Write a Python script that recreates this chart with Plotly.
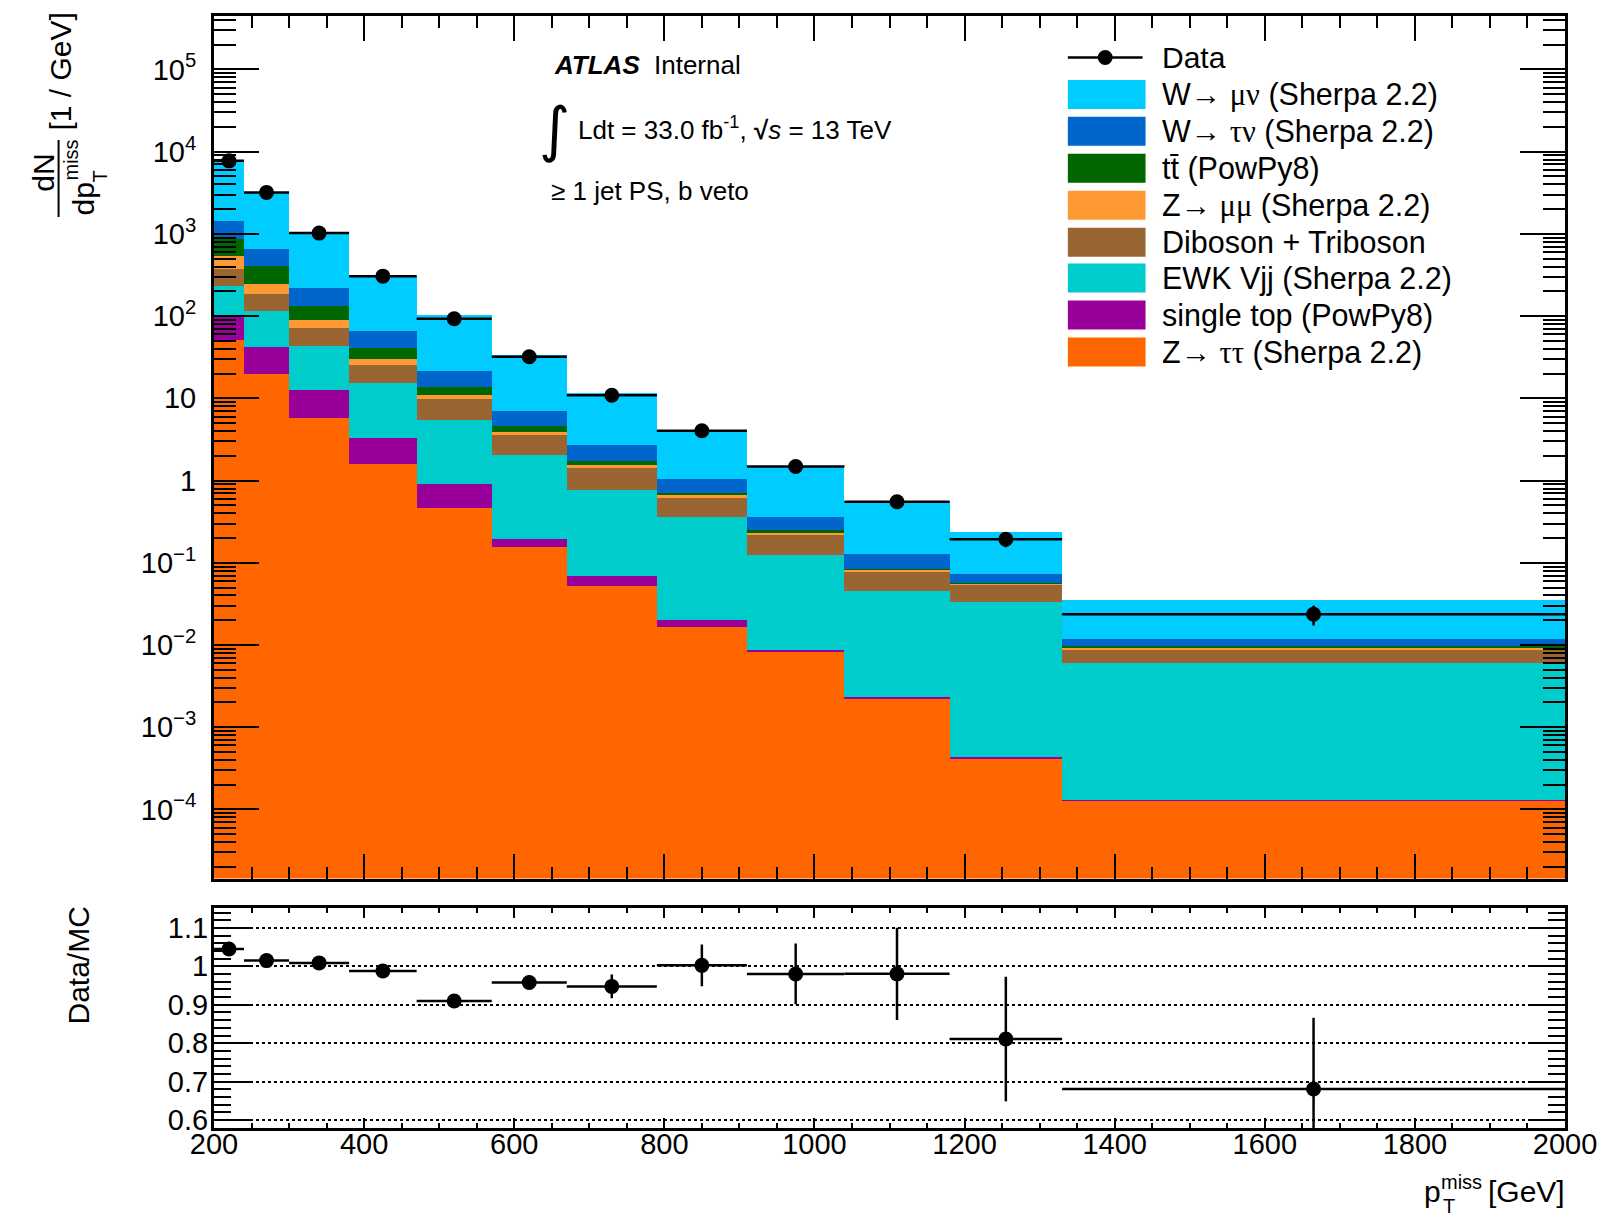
import plotly.graph_objects as go

# ---------------- data ----------------
bin_edges = [200, 240, 300, 380, 470, 570, 670, 790, 910, 1040, 1180, 1330, 2000]

# per-process dN/dpT [1/GeV], stack order bottom -> top
z_tautau   = [51.6, 20.0, 5.7, 1.6, 0.46, 0.154, 0.0515, 0.0166, 0.0084, 0.00226, 0.00042, 0.00013]
single_top = [45.4, 22.2, 7.1, 1.69, 0.454, 0.040, 0.0185, 0.0034, 0.0002, 0.00004, 0.00001, 0.000001]
ewk_vjj    = [137, 72.8, 30.5, 11.9, 4.49, 1.876, 0.69, 0.34, 0.1164, 0.0437, 0.0329, 0.00595]
diboson    = [138, 69.0, 28.7, 10.6, 4.3, 1.50, 0.66, 0.27, 0.094, 0.0328, 0.0212, 0.00282]
z_mumu     = [169, 61.0, 16.5, 4.6, 1.3, 0.38, 0.11, 0.036, 0.012, 0.0042, 0.001, 0.00034]
ttbar      = [334, 157, 46.1, 10.9, 2.6, 0.60, 0.18, 0.039, 0.018, 0.002, 0.001, 0.00053]
w_taunu    = [557, 248, 83.4, 24.5, 8.0, 2.55, 0.97, 0.325, 0.111, 0.043, 0.0165, 0.00198]
w_munu     = [5968, 2500, 795, 244, 80.4, 26.3, 8.82, 3.0, 1.15, 0.435, 0.165, 0.02305]

data_vals  = [7733, 3197, 1022, 306, 92.8, 32.0, 10.9, 4.04, 1.48, 0.552, 0.193, 0.0237]
ratio_err  = [0.002, 0.003, 0.004, 0.006, 0.010, 0.018, 0.031, 0.054, 0.079, 0.12, 0.162, 0.185]

stack_order = ["Ztt", "stop", "ewk", "dib", "zmm", "tt", "wtn", "wmn"]
stack_values = {"Ztt": z_tautau, "stop": single_top, "ewk": ewk_vjj, "dib": diboson,
                "zmm": z_mumu, "tt": ttbar, "wtn": w_taunu, "wmn": w_munu}
colors = {"wmn": "#00CCFF", "wtn": "#0066CC", "tt": "#006600", "zmm": "#FF9933",
          "dib": "#996633", "ewk": "#00CCCC", "stop": "#990099", "Ztt": "#FF6600"}

GR = "font-family:'Liberation Serif','Times New Roman',serif"
legend_order = ["wmn", "wtn", "tt", "zmm", "dib", "ewk", "stop", "Ztt"]
legend_labels = {
    "wmn": f"W→ <span style=\"{GR}\">μν</span> (Sherpa 2.2)",
    "wtn": f"W→ <span style=\"{GR}\">τν</span> (Sherpa 2.2)",
    "tt": "tt̄ (PowPy8)",
    "zmm": f"Z→ <span style=\"{GR}\">μμ</span> (Sherpa 2.2)",
    "dib": "Diboson + Triboson",
    "ewk": "EWK Vjj (Sherpa 2.2)",
    "stop": "single top (PowPy8)",
    "Ztt": f"Z→ <span style=\"{GR}\">ττ</span> (Sherpa 2.2)",
}

# ---------------- derived quantities ----------------
n = len(bin_edges) - 1
centers = [(bin_edges[i] + bin_edges[i + 1]) / 2 for i in range(n)]
widths = [bin_edges[i + 1] - bin_edges[i] for i in range(n)]
halfw = [w / 2 for w in widths]

fig = go.Figure()
cum = [1e-9] * n
for key in stack_order:
    vals = stack_values[key]
    fig.add_trace(go.Bar(x=centers, y=vals, base=cum, width=widths,
                         marker=dict(color=colors[key], line=dict(width=0)),
                         xaxis="x", yaxis="y", showlegend=False, hoverinfo="skip"))
    cum = [c + v for c, v in zip(cum, vals)]
mc_total = cum

ratio = [d / m for d, m in zip(data_vals, mc_total)]
data_err = [e * m for e, m in zip(ratio_err, mc_total)]

fig.add_trace(go.Scatter(x=centers, y=data_vals, mode="markers", xaxis="x", yaxis="y",
                         marker=dict(color="black", size=15),
                         error_x=dict(type="data", array=halfw, color="black", thickness=2.5, width=0),
                         error_y=dict(type="data", array=data_err, color="black", thickness=2.5, width=0),
                         showlegend=False))
fig.add_trace(go.Scatter(x=centers, y=ratio, mode="markers", xaxis="x2", yaxis="y2",
                         marker=dict(color="black", size=15),
                         error_x=dict(type="data", array=halfw, color="black", thickness=2.5, width=0),
                         error_y=dict(type="data", array=ratio_err, color="black", thickness=2.5, width=0),
                         showlegend=False))

# ---------------- layout geometry (pixels) ----------------
FW, FH = 1609, 1220
ML, MR, MT, MB = 214, 39, 16, 92
PW, PH = FW - ML - MR, FH - MT - MB


def px(x):
    return (x - ML) / PW


def py(y):
    return (FH - MB - y) / PH


main_bottom, ratio_top = 878.5, 907.5
FONT = "Liberation Sans, Arial, Helvetica, sans-serif"

y_major = [10.0 ** k for k in range(-4, 6)]
y_text = ["10<sup>−4</sup>", "10<sup>−3</sup>", "10<sup>−2</sup>", "10<sup>−1</sup>", "1", "10",
          "10<sup>2</sup>", "10<sup>3</sup>", "10<sup>4</sup>", "10<sup>5</sup>"]
y_minor = [m * 10.0 ** k for k in range(-5, 6) for m in range(2, 10)]
x_major = list(range(200, 2001, 200))
r_major = [0.6, 0.7, 0.8, 0.9, 1.0, 1.1]
r_text = ["0.6", "0.7", "0.8", "0.9", "1", "1.1"]

axis_common = dict(showline=True, linewidth=3, linecolor="black", mirror="ticks",
                   ticks="inside", tickcolor="black", tickwidth=2, showgrid=False, zeroline=False,
                   tickfont=dict(size=29, family=FONT, color="black"))

fig.update_layout(
    width=FW, height=FH,
    margin=dict(l=ML, r=MR, t=MT, b=MB),
    plot_bgcolor="white", paper_bgcolor="white",
    barmode="overlay", bargap=0, showlegend=False,
    font=dict(family=FONT, size=28, color="black"),
    xaxis=dict(domain=[0, 1], anchor="y", range=[200, 2000], tickmode="array", tickvals=x_major,
               showticklabels=False, ticklen=25,
               minor=dict(tickmode="linear", tick0=200, dtick=50, ticks="inside", ticklen=12,
                          tickwidth=2, tickcolor="black"),
               **axis_common),
    yaxis=dict(domain=[py(main_bottom), 1], anchor="x", type="log", range=[-4.84, 5.65],
               tickmode="array", tickvals=y_major, ticktext=y_text, ticklen=45,
               ticklabelstandoff=9,
               minor=dict(tickmode="array", tickvals=y_minor, ticks="inside", ticklen=22,
                          tickwidth=2, tickcolor="black"),
               **axis_common),
    xaxis2=dict(domain=[0, 1], anchor="y2", range=[200, 2000], tickmode="array", tickvals=x_major,
                ticklen=10, ticklabelstandoff=-12,
                minor=dict(tickmode="linear", tick0=200, dtick=50, ticks="inside", ticklen=5,
                           tickwidth=2, tickcolor="black"),
                **axis_common),
    yaxis2=dict(domain=[0, py(ratio_top)], anchor="x2", range=[0.5795, 1.153],
                tickmode="array", tickvals=r_major, ticktext=r_text, ticklen=36,
                ticklabelstandoff=-3,
                minor=dict(tickmode="linear", tick0=0.6, dtick=0.02, ticks="inside", ticklen=17,
                           tickwidth=2, tickcolor="black"),
                **{k: v for k, v in axis_common.items() if k != "showgrid"},
                showgrid=True, gridcolor="black", gridwidth=2, griddash="dot"),
)

annotations = []
shapes = []


def ann(text, x, y, size, xanchor="center", yanchor="middle", angle=0, family=FONT):
    annotations.append(dict(text=text, x=px(x), y=py(y), xref="paper", yref="paper",
                            xanchor=xanchor, yanchor=yanchor, textangle=angle, showarrow=False,
                            font=dict(size=size, family=family, color="black")))


# ATLAS label block
ann("<b><i>ATLAS</i></b>", 553, 65, 26, xanchor="left")
ann("Internal", 654, 65, 26, xanchor="left")
ann("∫", 556, 129, 60, family="DejaVu Sans, sans-serif")
ann("Ldt = 33.0 fb<sup>-1</sup>, <b>√</b><i>s</i> = 13 TeV", 577, 128, 26, xanchor="left")
ann("≥ 1 jet PS, b veto", 550, 191, 26, xanchor="left")

# legend (drawn manually to reproduce ROOT style boxes)
row_y = [57.5, 94.4, 131.3, 168.3, 205.2, 242.2, 278.1, 315.0, 352.0]
box_x0, box_x1, text_x = 1071, 1149, 1163
shapes.append(dict(type="line", xref="paper", yref="paper", x0=px(box_x0), x1=px(box_x1 - 3),
                   y0=py(row_y[0]), y1=py(row_y[0]), line=dict(color="black", width=2.5)))
shapes.append(dict(type="circle", xref="paper", yref="paper", x0=px(1101), x1=px(1116),
                   y0=py(row_y[0] - 7.5), y1=py(row_y[0] + 7.5), fillcolor="black",
                   line=dict(color="black", width=0)))
ann("Data", text_x, row_y[0], 30, xanchor="left")
for key, yy in zip(legend_order, row_y[1:]):
    shapes.append(dict(type="rect", xref="paper", yref="paper", x0=px(box_x0), x1=px(box_x1),
                       y0=py(yy - 14.5), y1=py(yy + 14.5), fillcolor=colors[key],
                       line=dict(width=0)))
    ann(legend_labels[key], text_x, yy, 30.5, xanchor="left")

# y-axis title of the main panel: dN / dpT^miss [1 / GeV]
ann("dN", 42, 173, 30, angle=-90)
shapes.append(dict(type="line", xref="paper", yref="paper", x0=px(58), x1=px(58),
                   y0=py(140), y1=py(217), line=dict(color="black", width=2)))
ann("dp", 84, 199, 30, angle=-90)
ann("miss", 70, 160, 20, angle=-90)
ann("T", 100, 176, 20, angle=-90)
ann("[1 / GeV]", 59, 72, 30, angle=-90)

# ratio y title
ann("Data/MC", 77, 966, 30, angle=-90)

# x-axis title: pT^miss [GeV]
ann("p", 1437, 1191, 30)
ann("miss", 1466, 1182, 20)
ann("T", 1454, 1206, 20)
ann("[GeV]", 1572, 1191, 30, xanchor="right")

fig.update_layout(annotations=annotations, shapes=shapes)
fig.write_html("out.html")
